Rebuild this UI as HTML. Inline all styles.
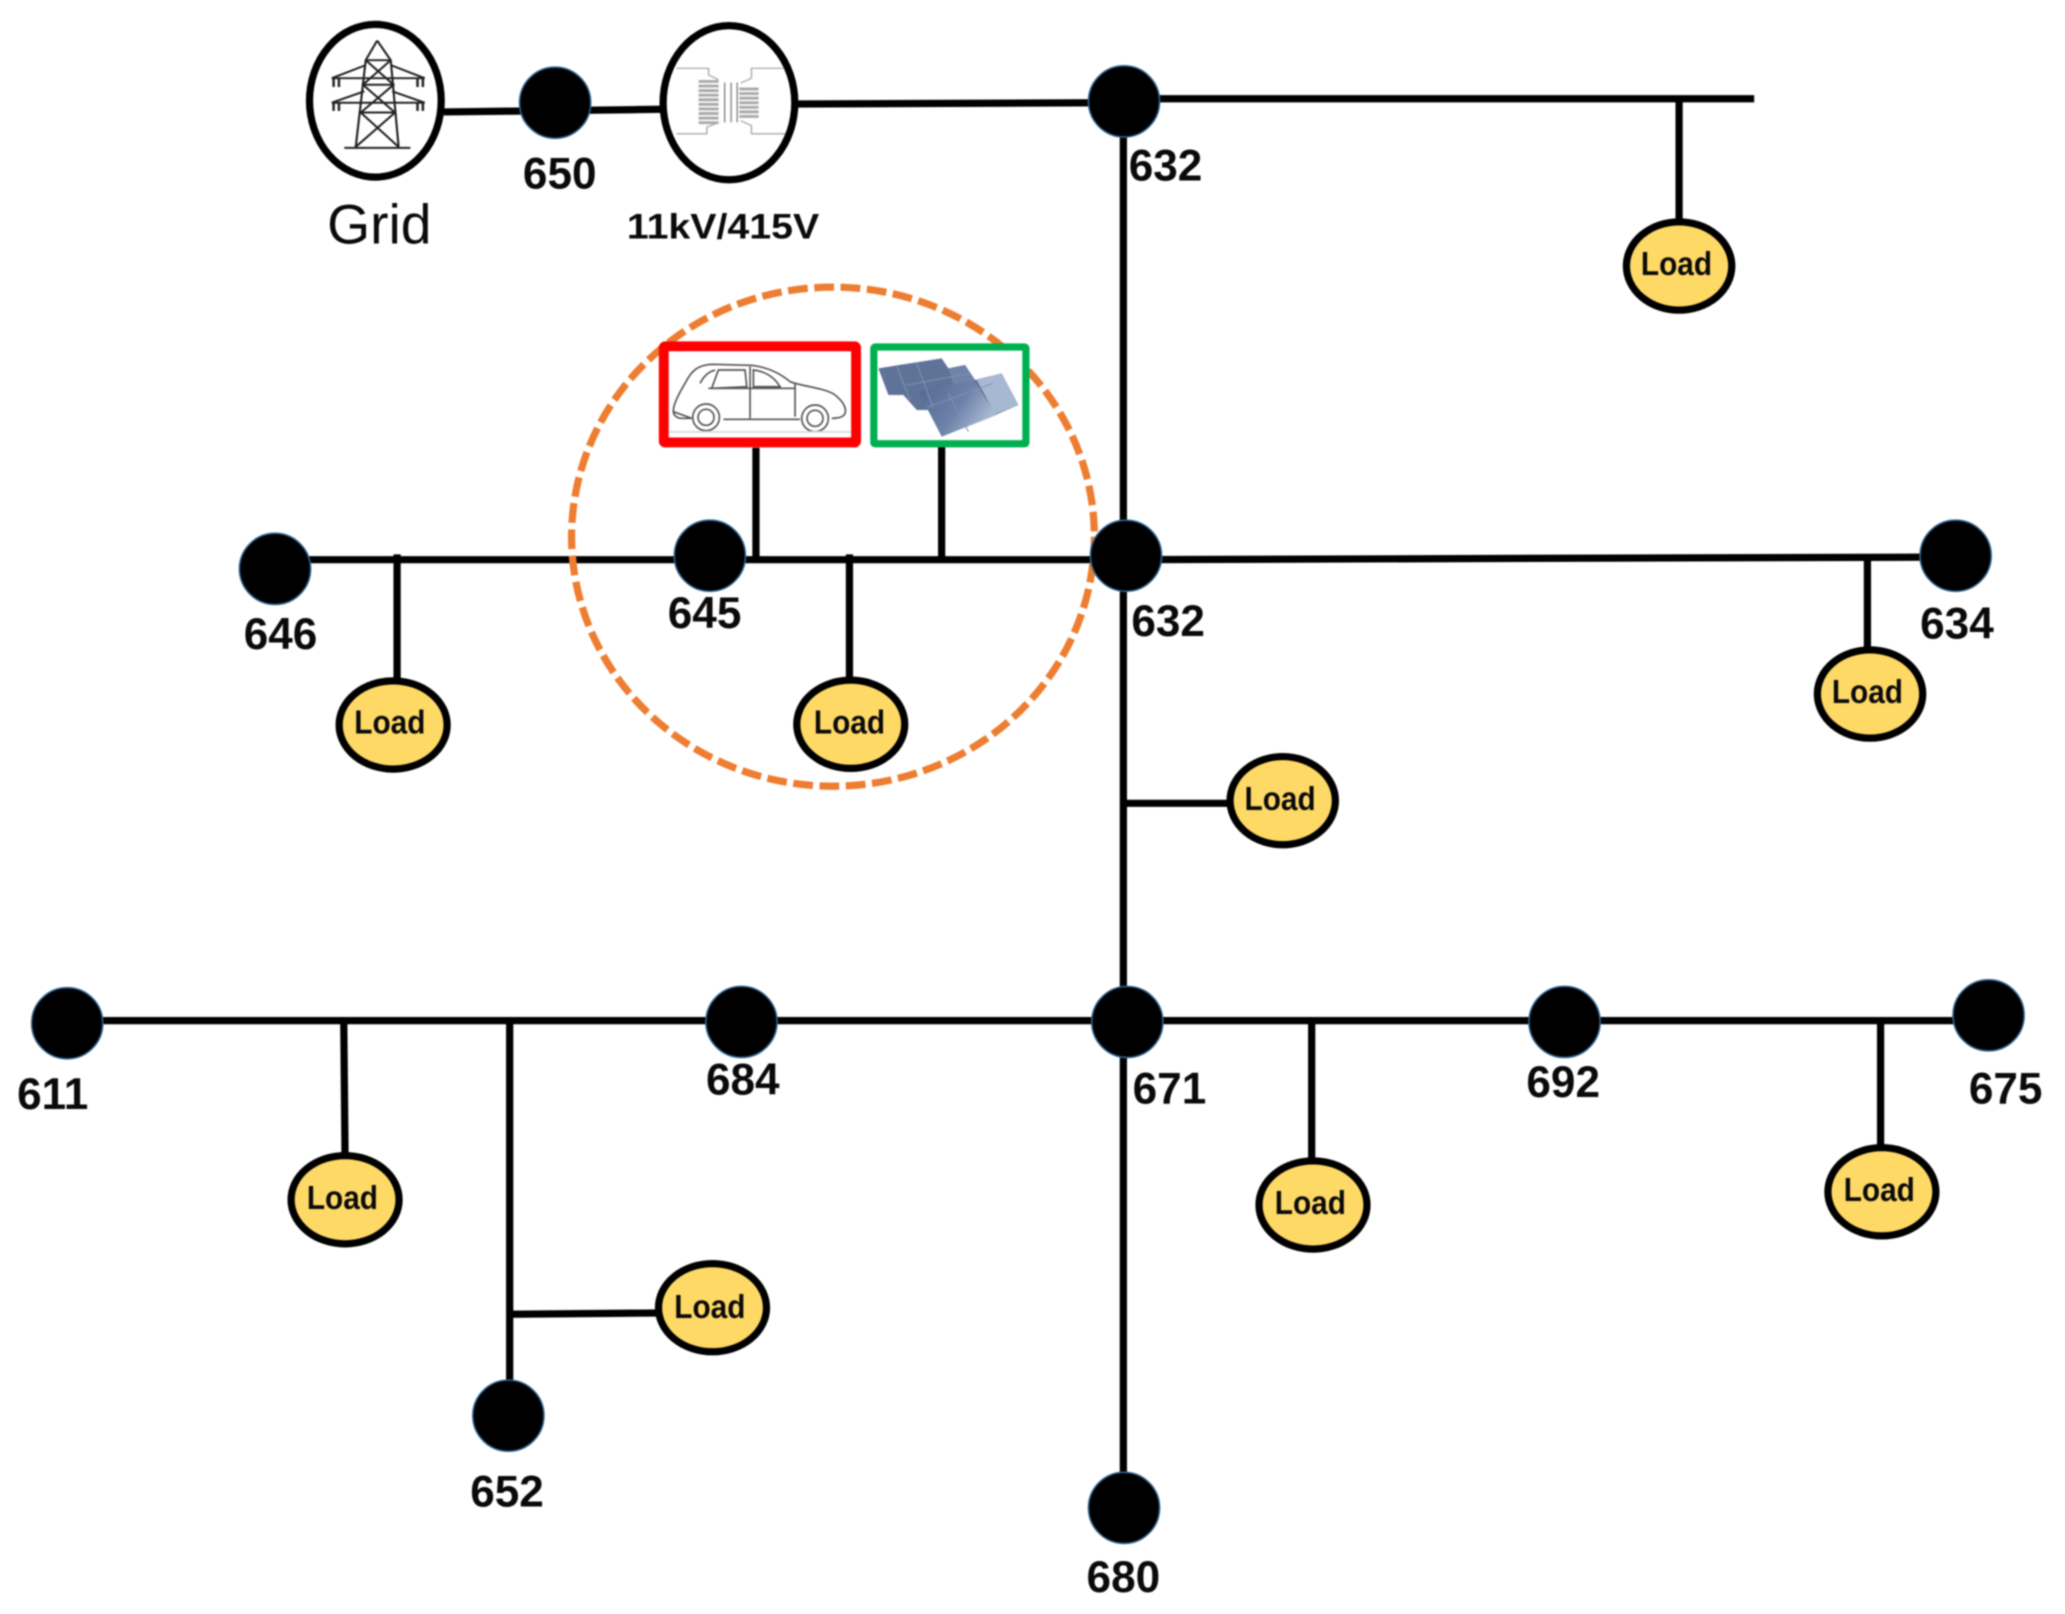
<!DOCTYPE html>
<html>
<head>
<meta charset="utf-8">
<style>
html,body{margin:0;padding:0;background:#fff;width:2065px;height:1614px;overflow:hidden}
svg{display:block;position:absolute;left:0;top:0;filter:blur(0.7px)}
text{font-family:"Liberation Sans",sans-serif;fill:#0a0a0a}
.n{font-weight:bold;font-size:33.500px;text-anchor:middle}
.l{font-weight:bold;font-size:25px;text-anchor:middle}
.w{stroke:#000;stroke-width:5.5;fill:none}
.b{fill:#000;stroke:#2e6390;stroke-width:1.2}
.y{fill:#ffd966;stroke:#000;stroke-width:5.5}
.t{stroke:#222;stroke-width:6;fill:none}
.c{stroke:#aaa;stroke-width:4;fill:none}
.car{stroke:#555;stroke-width:5;fill:none}
</style>
</head>
<body>
<svg width="2065" height="1614" viewBox="0 0 1568 1225.6" xmlns="http://www.w3.org/2000/svg">
<defs>
<linearGradient id="sol" x1="0" y1="0" x2="1" y2="0.5">
<stop offset="0" stop-color="#52678f"/><stop offset="0.6" stop-color="#6d82a9"/><stop offset="1" stop-color="#a9bad3"/>
</linearGradient>
</defs>
<rect width="1568" height="1226" fill="#fff"/>

<!-- wires -->
<path class="w" d="M337 85L503 83M605 79L835 78M880 75H1332M1275 75V168"/>
<path class="w" d="M853 77V1145"/>
<path class="w" d="M208 425H855M855 425L1485 423"/>
<path class="w" d="M301.500 421V518M645 421V518M574 340V425M715 338V425M1418 425V495M855 610H935"/>
<path class="w" d="M51 775H1510M261 775L262 880M387 775V1075M387 998L500 997M996 775V883M1428 775V873"/>

<!-- dashed circle -->
<ellipse cx="632.500" cy="407.500" rx="198.500" ry="189.500" fill="none" stroke="#ed7d31" stroke-width="5.500" stroke-dasharray="15 5"/>

<!-- grid -->
<ellipse cx="285" cy="76.500" rx="50" ry="58" fill="#fff" stroke="#000" stroke-width="5.500"/>
<g class="t" transform="translate(212.600 1) scale(0.2712 0.2484)">
<path d="M272 120L240 180L212 445M272 120L310 180L332 445M180 448H365"/>
<path d="M240 180H310M232 255H318M226 340H322"/>
<path d="M240 180L318 255L226 340M310 180L232 255L322 340"/>
<path d="M226 340L332 445M322 340L212 445"/>
<path d="M240 195L145 235H405L310 195M236 275L145 310H405L314 275"/>
<path d="M150 235V262M165 235V262M400 235V262M385 235V262M150 310V335M165 310V335M400 310V335M385 310V335" stroke-width="7"/>
</g>

<!-- transformer -->
<ellipse cx="553.500" cy="78" rx="50" ry="58.500" fill="#fff" stroke="#000" stroke-width="5.500"/>
<g class="c" transform="translate(212.600 1) scale(0.2712 0.2484)">
<path d="M1110 205H1200V225L1228 240M1110 405H1195V385L1228 370M1410 205H1320V235L1290 250M1415 405H1320V380L1290 365"/>
<path stroke-width="9" d="M1172 245H1228M1172 259H1228M1172 273H1228M1172 287H1228M1172 301H1228M1172 315H1228M1172 329H1228M1172 343H1228M1172 357H1228M1172 371H1228"/>
<path stroke-width="9" d="M1286 268H1340M1286 282H1340M1286 296H1340M1286 310H1340M1286 324H1340M1286 338H1340M1286 352H1340"/>
<path stroke="#888" d="M1245 248V370M1263 248V370M1280 248V370"/>
</g>

<!-- car -->
<rect x="504" y="263" width="146" height="73" fill="#fff" stroke="#f00" stroke-width="7.500" rx="1"/>
<g transform="translate(486 243) scale(0.2531)">
<path class="car" d="M100 275C98 255 120 215 135 190C155 150 175 135 215 133L330 136C380 140 420 160 450 185C490 200 560 205 585 225C610 245 620 265 615 280C610 293 590 295 575 295M480 298H250M155 295H125C110 295 100 285 100 275Z"/>
<circle class="car" cx="198" cy="292" r="40"/><circle class="car" cx="198" cy="292" r="24"/>
<circle class="car" cx="525" cy="295" r="40"/><circle class="car" cx="525" cy="295" r="24"/>
<path class="car" d="M215 205L235 150H315L320 200ZM340 150C380 155 405 175 420 200H340ZM330 140V295M465 190V290M205 205H465M180 190C190 170 205 155 225 150"/>
</g>
<path d="M508 328H646" stroke="#ddd" stroke-width="1.500"/>

<!-- solar -->
<rect x="663.500" y="263.500" width="115.500" height="73.500" fill="#fff" stroke="#00b050" stroke-width="5.500" rx="1"/>
<g transform="translate(486 243) scale(0.2531)">
<path fill="#5f7398" d="M715 145L905 115L925 145L975 135L1005 180L1085 160L1135 255L1065 285L905 350L870 270L830 270L790 225L745 225Z"/>
<path fill="url(#sol)" d="M835 215L1000 180L1070 285L905 350Z"/>
<path fill="#a7b8d2" d="M1010 180L1085 160L1135 255L1065 282Z"/>
<path fill="#6f83a8" d="M925 145L975 135L1005 180L940 195Z"/>
<path stroke="#7f92b4" stroke-width="3" fill="none" d="M770 138L810 240M830 130L880 265M860 262L1060 190M800 195L990 160M925 220L985 335"/>
</g>

<!-- loads -->
<ellipse class="y" cx="1275" cy="202" rx="40" ry="33.500"/>
<ellipse class="y" cx="298.500" cy="550.500" rx="41" ry="33.500"/>
<ellipse class="y" cx="646" cy="550" rx="41" ry="33.500"/>
<ellipse class="y" cx="1420" cy="527" rx="40" ry="33.500"/>
<ellipse class="y" cx="974" cy="608" rx="40" ry="33.500"/>
<ellipse class="y" cx="262" cy="911" rx="41" ry="33.500"/>
<ellipse class="y" cx="541" cy="993" rx="41" ry="33.500"/>
<ellipse class="y" cx="997" cy="915" rx="41" ry="33.500"/>
<ellipse class="y" cx="1429" cy="905" rx="41" ry="33.500"/>

<!-- nodes -->
<circle class="b" cx="421.500" cy="78" r="27"/>
<circle class="b" cx="853.500" cy="77" r="27"/>
<circle class="b" cx="855" cy="422" r="27"/>
<circle class="b" cx="208.800" cy="432" r="27"/>
<circle class="b" cx="539" cy="422" r="27"/>
<circle class="b" cx="1485" cy="422" r="27"/>
<circle class="b" cx="51" cy="777" r="27"/>
<circle class="b" cx="563" cy="776" r="27"/>
<circle class="b" cx="856" cy="776" r="27"/>
<circle class="b" cx="1188" cy="776" r="27"/>
<circle class="b" cx="1510" cy="771" r="27"/>
<circle class="b" cx="386" cy="1075" r="27"/>
<circle class="b" cx="853.500" cy="1145" r="27"/>

<!-- labels -->
<text x="288" y="185" font-size="42" text-anchor="middle">Grid</text>
<text x="549" y="181" font-size="27" font-weight="bold" text-anchor="middle" textLength="146" lengthAdjust="spacingAndGlyphs">11kV/415V</text>
<text class="n" x="425" y="143">650</text>
<text class="n" x="885" y="137">632</text>
<text class="n" x="213" y="493">646</text>
<text class="n" x="535" y="477">645</text>
<text class="n" x="887" y="483">632</text>
<text class="n" x="1486" y="485">634</text>
<text class="n" x="40" y="842">611</text>
<text class="n" x="564" y="831">684</text>
<text class="n" x="888" y="838">671</text>
<text class="n" x="1187" y="833">692</text>
<text class="n" x="1523" y="838">675</text>
<text class="n" x="385" y="1144">652</text>
<text class="n" x="853" y="1209">680</text>

<text class="l" x="1273" y="209" textLength="54" lengthAdjust="spacingAndGlyphs">Load</text>
<text class="l" x="296" y="557" textLength="54" lengthAdjust="spacingAndGlyphs">Load</text>
<text class="l" x="645" y="557" textLength="54" lengthAdjust="spacingAndGlyphs">Load</text>
<text class="l" x="1418" y="534" textLength="54" lengthAdjust="spacingAndGlyphs">Load</text>
<text class="l" x="972" y="615" textLength="54" lengthAdjust="spacingAndGlyphs">Load</text>
<text class="l" x="260" y="918" textLength="54" lengthAdjust="spacingAndGlyphs">Load</text>
<text class="l" x="539" y="1001" textLength="54" lengthAdjust="spacingAndGlyphs">Load</text>
<text class="l" x="995" y="922" textLength="54" lengthAdjust="spacingAndGlyphs">Load</text>
<text class="l" x="1427" y="912" textLength="54" lengthAdjust="spacingAndGlyphs">Load</text>
</svg>
</body>
</html>
